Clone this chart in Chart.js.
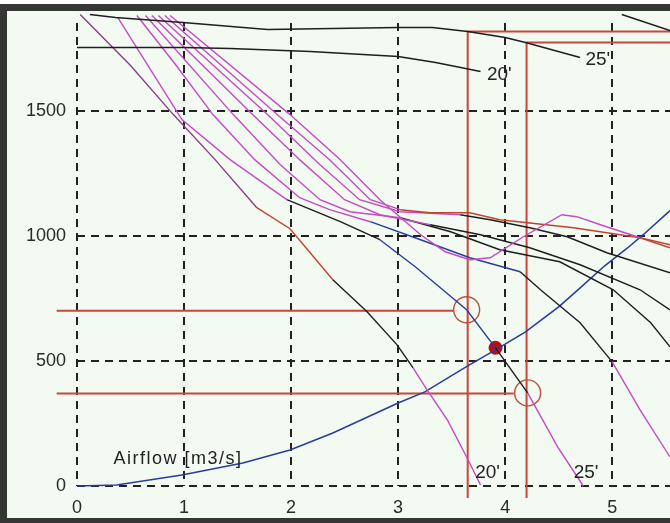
<!DOCTYPE html>
<html>
<head>
<meta charset="utf-8">
<script src="https://cdn.jsdelivr.net/npm/chart.js@4.4.0/dist/chart.umd.min.js"></script>
<style>
  html, body { margin: 0; padding: 0; background: #fff; }
  #wrap { width: 670px; height: 523px; }
</style>
</head>
<body>
<div id="wrap"><canvas id="fanChart" width="670" height="523"></canvas></div>
<script>
// axis ticks
const xTicks = [0, 1, 2, 3, 4, 5];
const yTicks = [0, 500, 1000, 1500];

// fan curves, airflow [m3/s] vs pressure
const curveA_x = [0.03, 0.50, 0.90, 1.29, 1.68, 1.99, 2.39, 2.71, 2.99, 3.14, 3.27, 3.46, 3.64, 3.77];
const curveA_y = [1884, 1680, 1484, 1304, 1112, 1028, 824, 696, 564, 472, 384, 264, 116, 4];
const curveB_x = [0.38, 0.98, 1.43, 1.96, 2.46, 2.83, 3.16, 3.64, 3.91, 4.21, 4.49, 4.73];
const curveB_y = [1872, 1464, 1304, 1144, 1056, 984, 876, 704, 552, 372, 156, 0];
const curveC1_x = [0.56, 0.92, 1.27, 1.66, 2.08, 2.36, 2.74, 3.21, 3.67, 4.14, 4.33, 4.70, 5.00, 5.26, 5.54];
const curveC1_y = [1880, 1684, 1484, 1304, 1152, 1104, 1056, 984, 912, 856, 784, 652, 496, 304, 116];
const curveC2_x = [0.64, 1.46, 1.90, 2.27, 2.55, 3.02, 3.49, 3.95, 4.51, 5.01, 5.36, 5.54];
const curveC2_y = [1880, 1484, 1284, 1144, 1096, 1072, 1016, 944, 896, 784, 652, 556];
const curveC3_x = [0.70, 1.64, 2.08, 2.50, 2.83, 3.30, 3.77, 4.23, 4.70, 5.26, 5.54];
const curveC3_y = [1880, 1484, 1304, 1144, 1084, 1044, 1004, 952, 884, 784, 704];
const curveC4_x = [0.76, 1.78, 2.27, 2.64, 3.02, 3.58, 3.86, 4.23, 4.58, 4.95, 5.54];
const curveC4_y = [1880, 1484, 1284, 1144, 1096, 1084, 1064, 1032, 996, 932, 852];
const curveC5_x = [0.82, 1.87, 2.36, 2.74, 3.02, 3.30, 3.67, 3.95, 4.64, 5.26, 5.54];
const curveC5_y = [1880, 1484, 1304, 1144, 1104, 1092, 1092, 1064, 1032, 992, 964];
const curveC6_x = [0.87, 1.99, 2.46, 2.83, 3.21, 3.44, 3.67, 3.86, 4.17, 4.53, 4.67, 4.89, 5.26, 5.54];
const curveC6_y = [1880, 1484, 1304, 1144, 1004, 936, 904, 912, 996, 1084, 1076, 1044, 992, 952];

// upper black curves (20' and 25')
const top25_x = [0.12, 0.36, 0.99, 1.78, 3.00, 3.32, 3.65, 4.00, 4.19, 4.70];
const top25_y = [1884, 1872, 1852, 1824, 1832, 1832, 1816, 1792, 1772, 1712];
const top20_x = [0.00, 0.99, 1.43, 2.18, 3.00, 3.35, 3.77];
const top20_y = [1752, 1752, 1748, 1736, 1716, 1692, 1656];
const topRight_x = [5.09, 5.54];
const topRight_y = [1884, 1820];

// system curve
const system_x = [0, 0.37, 0.98, 1.55, 1.99, 2.39, 3.00, 3.25, 3.65, 3.91, 4.19, 4.50, 4.68, 4.93, 5.14, 5.29, 5.54];
const system_y = [0, 4, 44, 92, 144, 212, 332, 376, 480, 544, 616, 716, 784, 880, 950, 1004, 1100];

// construction lines and operating points
const guide20_x = [5.60, 3.65, 3.65];
const guide20_y = [1816, 1816, -48];
const guide25_x = [5.60, 4.20, 4.20];
const guide25_y = [1772, 1772, -48];
const level20_x = [-0.19, 3.52];
const level20_y = [700, 700];
const level25_x = [-0.19, 4.08];
const level25_y = [370, 370];
const opCircle_x = [3.64, 4.21];
const opCircle_y = [704, 372];
const opPoint_x = [3.91];
const opPoint_y = [552];

const MAG = '#c64ac6', PUR = '#8c3c8c', RED = '#c0452e', BLK = '#1e1e1e', BLU = '#2c3c9c', GUIDE = '#c8463a';
const FONT = '"Liberation Sans", Arial, sans-serif';

function pts(xs, ys) {
  return xs.map((x, i) => ({ x: x, y: ys[i] }));
}

function curve(xs, ys, cuts, width) {
  return {
    data: pts(xs, ys),
    borderColor: cuts[0][1],
    borderWidth: width || 1.4,
    pointRadius: 0,
    tension: 0,
    clip: false,
    segment: {
      borderColor: ctx => {
        let c = cuts[0][1];
        cuts.forEach(k => { if (ctx.p0DataIndex >= k[0]) c = k[1]; });
        return c;
      }
    }
  };
}

const frame = {
  id: 'frame',
  beforeDraw(chart) {
    const ctx = chart.ctx;
    ctx.save();
    ctx.fillStyle = '#ffffff';
    ctx.fillRect(0, 0, 670, 523);
    ctx.fillStyle = '#363636';
    ctx.fillRect(0, 4, 670, 519);
    ctx.fillStyle = '#f2faf2';
    ctx.fillRect(7, 11, 663, 507);
    ctx.restore();
  }
};

const labels = {
  id: 'labels',
  afterDatasetsDraw(chart) {
    const ctx = chart.ctx, sx = chart.scales.x, sy = chart.scales.y;
    ctx.save();
    ctx.fillStyle = '#222';
    ctx.textBaseline = 'alphabetic';
    ctx.textAlign = 'left';
    ctx.font = '19px ' + FONT;
    [["20'", 3.83, 1624], ["25'", 4.75, 1684], ["20'", 3.72, 32], ["25'", 4.64, 32]].forEach(t => {
      ctx.fillText(t[0], sx.getPixelForValue(t[1]), sy.getPixelForValue(t[2]));
    });
    ctx.font = '18px ' + FONT;
    ctx.letterSpacing = '1.5px';
    ctx.fillText('Airflow [m3/s]', sx.getPixelForValue(0.34), sy.getPixelForValue(88));
    ctx.restore();
  }
};

new Chart(document.getElementById('fanChart'), {
  type: 'line',
  data: {
    datasets: [
      curve(top25_x, top25_y, [[0, BLK]], 1.5),
      curve(top20_x, top20_y, [[0, BLK]], 1.5),
      curve(topRight_x, topRight_y, [[0, BLK]], 1.5),
      curve(curveC6_x, curveC6_y, [[0, MAG], [12, RED]]),
      curve(curveC5_x, curveC5_y, [[0, MAG], [4, RED]]),
      curve(curveC4_x, curveC4_y, [[0, MAG], [5, BLK]]),
      curve(curveC3_x, curveC3_y, [[0, MAG], [5, BLK]]),
      curve(curveC2_x, curveC2_y, [[0, MAG], [5, BLK]]),
      curve(curveC1_x, curveC1_y, [[0, MAG], [6, BLU], [9, BLK], [12, MAG]]),
      curve(curveB_x, curveB_y, [[0, MAG], [3, BLK], [5, BLU], [8, BLK], [9, MAG]]),
      curve(curveA_x, curveA_y, [[0, PUR], [4, RED], [6, BLK], [9, MAG]]),
      curve(system_x, system_y, [[0, BLU]], 1.6),
      curve(guide20_x, guide20_y, [[0, GUIDE]], 2),
      curve(guide25_x, guide25_y, [[0, GUIDE]], 2),
      curve(level20_x, level20_y, [[0, GUIDE]], 2),
      curve(level25_x, level25_y, [[0, GUIDE]], 2),
      {
        data: pts(opCircle_x, opCircle_y),
        showLine: false,
        pointRadius: 13,
        pointBorderWidth: 1.4,
        pointBorderColor: '#b8543c',
        pointBackgroundColor: 'rgba(0,0,0,0)',
        clip: false
      },
      {
        data: pts(opPoint_x, opPoint_y),
        showLine: false,
        pointRadius: 7,
        pointBorderWidth: 0,
        pointBackgroundColor: '#b80f14',
        clip: false
      }
    ]
  },
  options: {
    responsive: false,
    animation: false,
    devicePixelRatio: 1,
    layout: { autoPadding: false, padding: { top: 23, right: 0, bottom: 0, left: 0 } },
    plugins: { legend: { display: false }, tooltip: { enabled: false } },
    scales: {
      x: {
        type: 'linear',
        min: 0,
        max: 5.54,
        afterBuildTicks: s => { s.ticks = xTicks.map(v => ({ value: v })); },
        afterFit: s => { s.height = 37; s.paddingLeft = 0; s.paddingRight = 0; },
        grid: { color: '#222', lineWidth: 2, drawTicks: false },
        border: { display: false, dash: [8, 6] },
        ticks: { padding: 11, color: '#2a2a2a', callback: v => String(v), font: { family: FONT, size: 18 } }
      },
      y: {
        type: 'linear',
        min: 0,
        max: 1850,
        afterBuildTicks: s => { s.ticks = yTicks.map(v => ({ value: v })); },
        afterFit: s => { s.width = 77; s.paddingTop = 0; s.paddingBottom = 0; },
        grid: { color: '#222', lineWidth: 2, drawTicks: false },
        border: { display: false, dash: [8, 6] },
        ticks: { padding: 11, color: '#2a2a2a', callback: v => String(v), font: { family: FONT, size: 18 } }
      }
    }
  },
  plugins: [frame, labels]
});
</script>
</body>
</html>
